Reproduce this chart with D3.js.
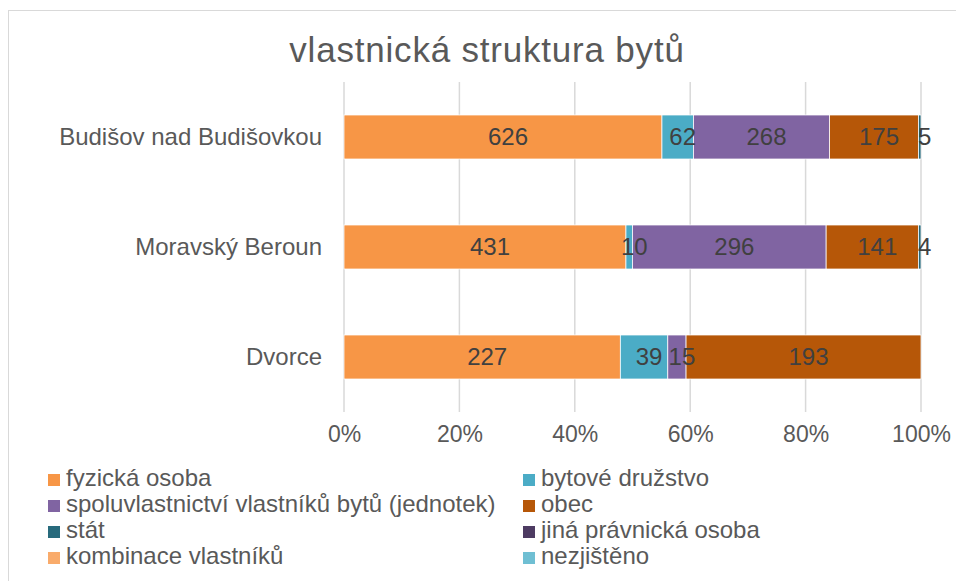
<!DOCTYPE html>
<html><head><meta charset="utf-8">
<script src="https://cdn.jsdelivr.net/npm/d3@7"></script>
<style>body{margin:0;background:#fff;} svg{display:block;font-family:Arial,"Liberation Sans",sans-serif;}</style>
</head><body>
<svg id="c" width="956" height="581"></svg>
<script>
const title = "vlastnická struktura bytů";
const categories = ["Budišov nad Budišovkou", "Moravský Beroun", "Dvorce"];
const seriesNames = ["fyzická osoba", "bytové družstvo", "spoluvlastnictví vlastníků bytů (jednotek)", "obec", "stát", "jiná právnická osoba", "kombinace vlastníků", "nezjištěno"];
const seriesColors = ["#F79646", "#4BACC6", "#8064A2", "#B65708", "#276A7C", "#4D3B62", "#F9AB6B", "#6FBFD3"];
const fyzickaOsoba = [626, 431, 227];
const bytoveDruzstvo = [62, 10, 39];
const spoluvlastnictvi = [268, 296, 15];
const obec = [175, 141, 193];
const stat = [5, 4, 0];
const jinaPravnicka = [0, 0, 0];
const kombinace = [0, 0, 0];
const nezjisteno = [0, 0, 0];
const seriesValues = [fyzickaOsoba, bytoveDruzstvo, spoluvlastnictvi, obec, stat, jinaPravnicka, kombinace, nezjisteno];
const tickValues = [0, 0.2, 0.4, 0.6, 0.8, 1.0];

const svg = d3.select("#c");
svg.append("rect").attr("x", 8.5).attr("y", 10.5).attr("width", 1000).attr("height", 700)
  .attr("fill", "#fff").attr("stroke", "#d9d9d9").attr("stroke-width", 1);

svg.append("text").attr("x", 487).attr("y", 62).attr("text-anchor", "middle")
  .attr("font-size", 35).attr("letter-spacing", 0.8).attr("fill", "#595959").text(title);

const x = d3.scaleLinear().domain([0, 1]).range([344, 921]);
const y = d3.scaleBand().domain(categories).range([82, 412]).paddingInner(0.6).paddingOuter(0.3);

// gridlines
const grid = svg.append("g");
grid.selectAll("line").data(tickValues).join("line")
  .attr("x1", d => x(d)).attr("x2", d => x(d)).attr("y1", 82).attr("y2", 412)
  .attr("stroke", "#d9d9d9").attr("stroke-width", 1.5);

// axis
const xAxis = d3.axisBottom(x).tickValues(tickValues).tickFormat(d3.format(".0%")).tickSize(0).tickPadding(14);
const ax = svg.append("g").attr("transform", "translate(0,412)").call(xAxis);
ax.select(".domain").remove();
ax.selectAll("text").attr("font-size", 23).attr("fill", "#595959").attr("font-family", "Arial, 'Liberation Sans', sans-serif");

const yAxis = d3.axisLeft(y).tickSize(0).tickPadding(22);
const ay = svg.append("g").attr("transform", "translate(344,0)").call(yAxis);
ay.select(".domain").remove();
ay.selectAll("text").attr("font-size", 24).attr("fill", "#595959").attr("font-family", "Arial, 'Liberation Sans', sans-serif");

// stacked data
const totals = categories.map((c, i) => d3.sum(seriesValues, s => s[i]));
const segs = [];
categories.forEach((c, i) => {
  let acc = 0;
  seriesValues.forEach((s, k) => {
    const v = s[i];
    segs.push({cat: c, k, v, x0: acc / totals[i], x1: (acc + v) / totals[i]});
    acc += v;
  });
});

svg.append("g").selectAll("rect").data(segs.filter(d => d.v > 0)).join("rect")
  .attr("x", d => x(d.x0)).attr("width", d => x(d.x1) - x(d.x0))
  .attr("y", d => y(d.cat)).attr("height", y.bandwidth())
  .attr("fill", d => seriesColors[d.k]).attr("stroke", "#fff").attr("stroke-width", 0.75);

svg.append("g").selectAll("text").data(segs.filter(d => d.v > 0)).join("text")
  .attr("x", d => (x(d.x0) + x(d.x1)) / 2 + 5)
  .attr("y", d => y(d.cat) + y.bandwidth() / 2)
  .attr("dy", "0.35em").attr("text-anchor", "middle")
  .attr("font-size", 24).attr("fill", "#404040").text(d => d.v);

// legend
const leg = svg.append("g");
seriesNames.forEach((n, k) => {
  const col = k % 2, row = Math.floor(k / 2);
  const lx = col === 0 ? 48 : 523;
  const ly = 486 + row * 26;
  leg.append("rect").attr("x", lx).attr("y", ly - 12).attr("width", 12).attr("height", 12).attr("fill", seriesColors[k]);
  leg.append("text").attr("x", lx + 18).attr("y", ly).attr("font-size", 24).attr("fill", "#595959").text(n);
});
</script>
</body></html>
